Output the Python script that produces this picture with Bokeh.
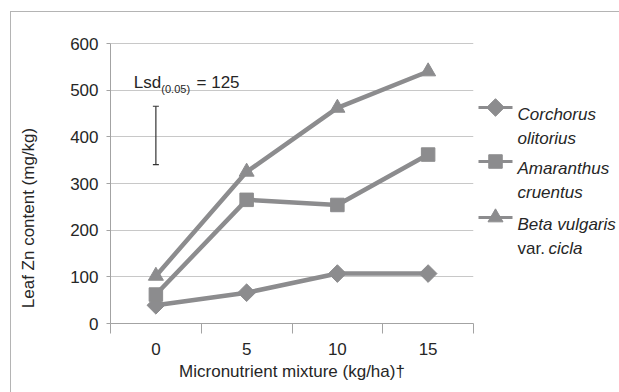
import numpy as np
from bokeh.plotting import figure
from bokeh.models import Range1d, FixedTicker, Label, ColumnDataSource, Whisker, TeeHead
from bokeh.layouts import row
from bokeh.embed import file_html
from bokeh.resources import INLINE
from bokeh.core.properties import value

# ---- data ----
doses = ["0", "5", "10", "15"]
corchorus = [39, 66, 107, 107]
amaranthus = [62, 265, 254, 362]
beta = [102, 325, 462, 540]
lsd_value = 125
lsd_center = 403
y_ticks = [0, 100, 200, 300, 400, 500, 600]
series_first = ["Corchorus", "Amaranthus", "Beta vulgaris"]
series_second = ["olitorius", "cruentus", None]

FONT = "Liberation Sans"
FS = "17px"
SER = "#8c8c8e"
TXT = "#262626"
AX = "#a3a3a3"
GRID = "#c8c8c8"
BORDER = "#b4b4b4"

H = 380        # height of every panel (page y 12..392)
BOTTOM = 69    # bottom border shared by the panels in the row


def panel(width):
    # frame covers page y 12..323; y coordinate = 392 - page y
    fig = figure(width=width, height=H, x_range=Range1d(0, width), y_range=Range1d(BOTTOM, H),
                 output_backend="svg", toolbar_location=None,
                 min_border_left=0, min_border_right=0, min_border_top=0, min_border_bottom=BOTTOM,
                 x_axis_location=None, y_axis_location=None)
    fig.grid.visible = False
    fig.outline_line_color = None
    fig.border_fill_color = "white"
    fig.background_fill_color = "white"
    return fig


# ---- left panel: y-axis title ----
lab = panel(47)
lab.text([17], [174.5], text=["Leaf Zn content (mg/kg)"], angle=np.pi / 2,
         text_align="center", text_baseline="middle", text_font=value(FONT),
         text_font_size=FS, text_color=TXT)

# ---- main plot ----
xs = [i + 0.5 for i in range(len(doses))]
p = figure(width=417, height=H, x_range=Range1d(0, len(doses)), y_range=Range1d(0, 666.43),
           output_backend="svg", toolbar_location=None,
           min_border_left=52, min_border_right=2, min_border_top=0, min_border_bottom=BOTTOM)
p.outline_line_color = None
p.background_fill_color = "white"
p.border_fill_color = "white"

p.xaxis.ticker = FixedTicker(ticks=xs, minor_ticks=list(range(len(doses) + 1)))
p.xaxis.major_label_overrides = {x: d for x, d in zip(xs, doses)}
p.xaxis.major_tick_out = 0
p.xaxis.major_tick_in = 0
p.xaxis.minor_tick_out = 10
p.xaxis.minor_tick_in = 0
p.xaxis.minor_tick_line_color = AX
p.xaxis.major_label_standoff = 9
p.xaxis.axis_label = "Micronutrient mixture (kg/ha)\u2020"
p.xaxis.axis_label_standoff = 4
p.xaxis.axis_label_text_font_style = "normal"

p.yaxis.ticker = FixedTicker(ticks=y_ticks, minor_ticks=[])
p.yaxis.bounds = (y_ticks[0], y_ticks[-1])
p.yaxis.major_tick_out = 4
p.yaxis.major_tick_in = 0
p.yaxis.major_label_standoff = 8

for ax in (p.xaxis, p.yaxis):
    ax.axis_line_color = AX
    ax.major_tick_line_color = AX
    ax.major_label_text_font = FONT
    ax.major_label_text_font_size = FS
    ax.major_label_text_color = TXT
    ax.axis_label_text_font = FONT
    ax.axis_label_text_font_size = FS
    ax.axis_label_text_color = TXT

p.xgrid.visible = False
p.ygrid.ticker = FixedTicker(ticks=y_ticks[1:])
p.ygrid.grid_line_color = GRID
p.ygrid.grid_line_width = 1

LW = 4.5
p.line(xs, corchorus, line_color=SER, line_width=LW)
p.scatter(xs, corchorus, marker="square", angle=np.pi / 4, size=12.5, color=SER)
p.line(xs, amaranthus, line_color=SER, line_width=LW)
p.scatter(xs, amaranthus, marker="square", size=13.5, color=SER)
p.line(xs, beta, line_color=SER, line_width=LW)
p.scatter(xs, beta, marker="triangle", size=15, color=SER)

# LSD bar and its caption
wsrc = ColumnDataSource(dict(base=[xs[0]], lower=[lsd_center - lsd_value / 2],
                             upper=[lsd_center + lsd_value / 2]))
p.add_layout(Whisker(source=wsrc, base="base", upper="upper", lower="lower", dimension="height",
                     line_color="#333333", line_width=1.2,
                     upper_head=TeeHead(size=6, line_color="#333333", line_width=1.2),
                     lower_head=TeeHead(size=6, line_color="#333333", line_width=1.2)))
p.add_layout(Label(x=0.257, y=517, text="Lsd", text_font=FONT, text_font_size=FS,
                   text_color=TXT, text_baseline="alphabetic"))
p.add_layout(Label(x=0.56, y=502, text="(0.05)", text_font=FONT, text_font_size="11px",
                   text_color=TXT, text_baseline="alphabetic"))
p.add_layout(Label(x=0.948, y=517, text="= " + str(lsd_value), text_font=FONT, text_font_size=FS,
                   text_color=TXT, text_baseline="alphabetic"))

# ---- legend panel ----
leg = panel(144)

row_y = [285, 231, 175]
markers = [("square", np.pi / 4, 12.5), ("square", 0, 13.5), ("triangle", 0, 15)]
for yy, (mk, ang, sz) in zip(row_y, markers):
    leg.segment(x0=3, y0=yy, x1=37, y1=yy, line_color=SER, line_width=3)
    leg.scatter([20], [yy], marker=mk, angle=ang, size=sz, color=SER)

it_x, it_y, it_t = [], [], []
for yy, a, b in zip(row_y, series_first, series_second):
    it_x.append(42); it_y.append(yy - 6.5); it_t.append(a)
    if b:
        it_x.append(42); it_y.append(yy - 31); it_t.append(b)
it_x.append(73); it_y.append(row_y[2] - 31); it_t.append("cicla")
leg.text(it_x, it_y, text=it_t, text_font=value(FONT), text_font_size=FS,
         text_font_style="italic", text_color=TXT, text_baseline="alphabetic")
leg.text([42], [row_y[2] - 31], text=["var."], text_font=value(FONT), text_font_size=FS,
         text_color=TXT, text_baseline="alphabetic")

layout = row(lab, p, leg, margin=(11, 0, 0, 10),
             styles={"border-left": "1px solid " + BORDER, "border-top": "1px solid " + BORDER})

open("out.html", "w").write(file_html(layout, INLINE))
